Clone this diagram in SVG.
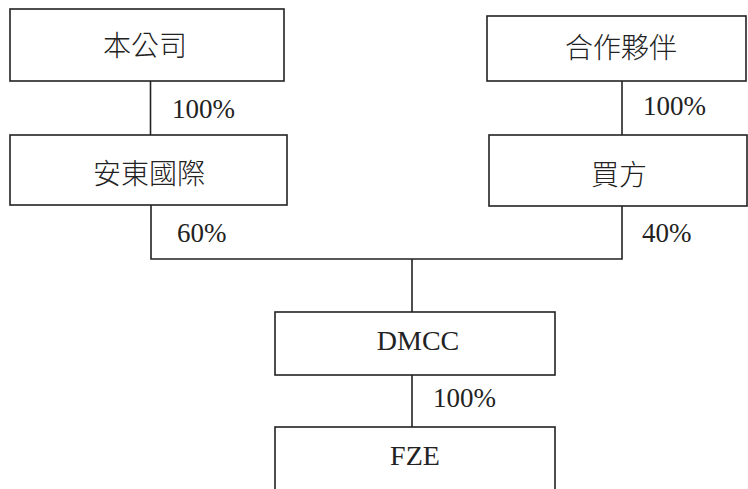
<svg xmlns="http://www.w3.org/2000/svg" width="748" height="489" viewBox="0 0 748 489">
<style>
.box{fill:#fff;stroke:#222;stroke-width:1.6}
.ln{fill:none;stroke:#222;stroke-width:1.6}
.zh{font-family:"Noto Sans CJK TC","Noto Sans CJK SC",serif;font-size:28px;font-weight:300;fill:#222;text-anchor:middle}
.en{font-family:"Liberation Serif",serif;font-size:28px;fill:#222;text-anchor:middle}
.pc{font-family:"Liberation Serif",serif;font-size:27px;fill:#222}
</style>
<rect width="748" height="489" fill="#fff"/>
<g id="connectors">
<path class="ln" d="M150.5 81V135"/>
<path class="ln" d="M151 205V259H622V206"/>
<path class="ln" d="M622 81V135"/>
<path class="ln" d="M412 259V312"/>
<path class="ln" d="M412 375V427"/>
<text class="pc" x="172" y="118">100%</text>
<text class="pc" x="177" y="242">60%</text>
<text class="pc" x="643" y="115">100%</text>
<text class="pc" x="642" y="242">40%</text>
<text class="pc" x="433" y="407">100%</text>
</g>
<g id="n-company"><rect class="box" x="10" y="9" width="274" height="72"/><text class="zh" x="145" y="56">本公司</text></g>
<g id="n-andong"><rect class="box" x="10" y="135" width="277" height="70"/><text class="zh" x="149" y="184">安東國際</text></g>
<g id="n-partner"><rect class="box" x="487" y="16" width="259" height="65"/><text class="zh" x="621" y="58">合作夥伴</text></g>
<g id="n-buyer"><rect class="box" x="489" y="135" width="258" height="71"/><text class="zh" x="619" y="185">買方</text></g>
<g id="n-dmcc"><rect class="box" x="275" y="312" width="280" height="63"/><text class="en" x="418" y="350">DMCC</text></g>
<g id="n-fze"><rect class="box" x="275" y="427" width="280" height="70"/><text class="en" x="415" y="465">FZE</text></g>
</svg>
